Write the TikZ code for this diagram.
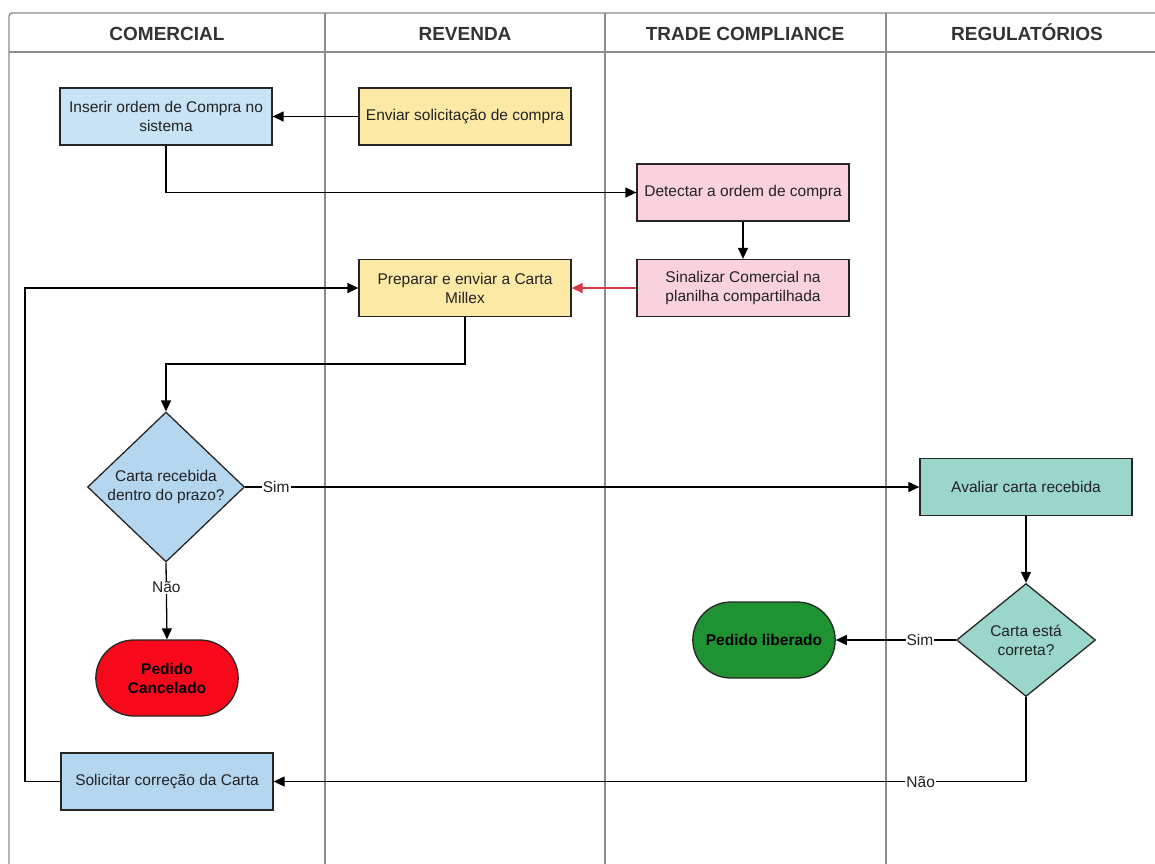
\documentclass[tikz,border=0pt]{standalone}
\usepackage{fontspec}
\setmainfont{Liberation Sans}
\usetikzlibrary{shapes.geometric,shapes.misc,arrows.meta}

\definecolor{lanegray}{HTML}{8C8C8C}
\definecolor{headtext}{HTML}{333333}
\definecolor{bodytext}{HTML}{222222}
\definecolor{lightblue}{HTML}{C7E3F5}
\definecolor{midblue}{HTML}{B4D6EF}
\definecolor{sand}{HTML}{FDE9A6}
\definecolor{rose}{HTML}{F9D2DD}
\definecolor{mint}{HTML}{9AD6C9}
\definecolor{okgreen}{HTML}{1F9331}
\definecolor{stopred}{HTML}{F7081A}
\definecolor{warnred}{HTML}{D9364A}

\tikzset{
  lane/.style={draw=lanegray, line width=1.4pt},
  head/.style={font=\fontsize{19}{22}\selectfont\bfseries, text=headtext,
    text height=14pt, text depth=0pt, inner sep=0pt},
  base/.style={draw=black!85, line width=1.3pt, align=center, text=bodytext,
    font=\fontsize{15.5}{19}\selectfont},
  proc/.style={base, rectangle, minimum width=212pt, minimum height=57pt, inner sep=2pt},
  dec/.style={base, diamond, inner sep=0pt},
  term/.style={base, rounded rectangle, minimum width=149pt, minimum height=76pt,
    font=\fontsize{15.5}{19}\selectfont\bfseries, text=black},
  flow/.style={draw=black, line width=1.3pt},
  arr/.style={flow, -{Triangle[length=11pt,width=10pt]}},
  lbl/.style={fill=white, inner sep=1pt, text=bodytext,
    font=\fontsize{15.5}{19}\selectfont},
}

\begin{document}
\begin{tikzpicture}[x=1pt, y=-1pt]
\useasboundingbox (0,0) rectangle (1155,863);

% swimlane frame, headers and dividers
\begin{scope}
  \clip (0,0) rectangle (1155,863);
  \draw[lane, rounded corners=3pt] (9,870) -- (9,13) -- (1175,13);
  \draw[lane] (9,52) -- (1175,52);
  \draw[lane] (325,13) -- (325,870);
  \draw[lane] (605,13) -- (605,870);
  \draw[lane] (886,13) -- (886,870);
  \draw[lane] (1168,13) -- (1168,870);
\end{scope}
\node[head] (hcom) at (167,33) {COMERCIAL};
\node[head] (hrev) at (465,33) {REVENDA};
\node[head] (htc)  at (745,33) {TRADE COMPLIANCE};
\node[head] (hreg) at (1027,33) {REGULATÓRIOS};

% process steps
\node[proc, fill=lightblue] (b1) at (166,116.5) {Inserir ordem de Compra no\\sistema};
\node[proc, fill=sand]      (b2) at (465,116.5) {Enviar solicitação de compra};
\node[proc, fill=rose]      (b3) at (743,192.5) {Detectar a ordem de compra};
\node[proc, fill=rose]      (b4) at (743,288)   {Sinalizar Comercial na\\planilha compartilhada};
\node[proc, fill=sand]      (b5) at (465,288)   {Preparar e enviar a Carta\\Millex};
\node[proc, fill=mint]      (b6) at (1026,487)  {Avaliar carta recebida};
\node[proc, fill=midblue]   (b7) at (167,781.5) {Solicitar correção da Carta};

% decisions
\node[dec, fill=midblue, minimum width=157pt, minimum height=150pt,
  label={[align=center, text=bodytext, font=\fontsize{15.5}{19}\selectfont]center:Carta recebida\\dentro do prazo?}]
  (d1) at (166,487) {};
\node[dec, fill=mint, minimum width=139pt, minimum height=113pt,
  label={[align=center, text=bodytext, font=\fontsize{15.5}{19}\selectfont]center:Carta está\\correta?}]
  (d2) at (1026,640) {};

% end states
\node[term, fill=stopred] (t1) at (167,678) {Pedido\\Cancelado};
\node[term, fill=okgreen] (t2) at (764,640) {Pedido liberado};

% connectors
\draw[arr] (b2.west) -- (b1.east);
\draw[arr] (b1.south) |- (b3.west);
\draw[arr] (b3.south) -- (b4.north);
\draw[arr, draw=warnred] (b4.west) -- (b5.east);
\coordinate (turn1) at (465,364);
\draw[arr] (b5.south) -- (turn1) -| (d1.north);
\draw[arr] (d1.east) -- node[lbl, pos=0.046] {Sim} (b6.west);
\draw[arr] (d1.south) -- node[lbl, pos=0.32] {Não} (t1.north);
\draw[arr] (b6.south) -- (d2.north);
\draw[arr] (d2.west) -- node[lbl, pos=0.3] {Sim} (t2.east);
\draw[arr] (d2.south) |- node[lbl, pos=0.57] {Não} (b7.east);
\coordinate (turn2) at (25,781.5);
\draw[arr] (b7.west) -- (turn2) |- (b5.west);
\end{tikzpicture}
\end{document}
